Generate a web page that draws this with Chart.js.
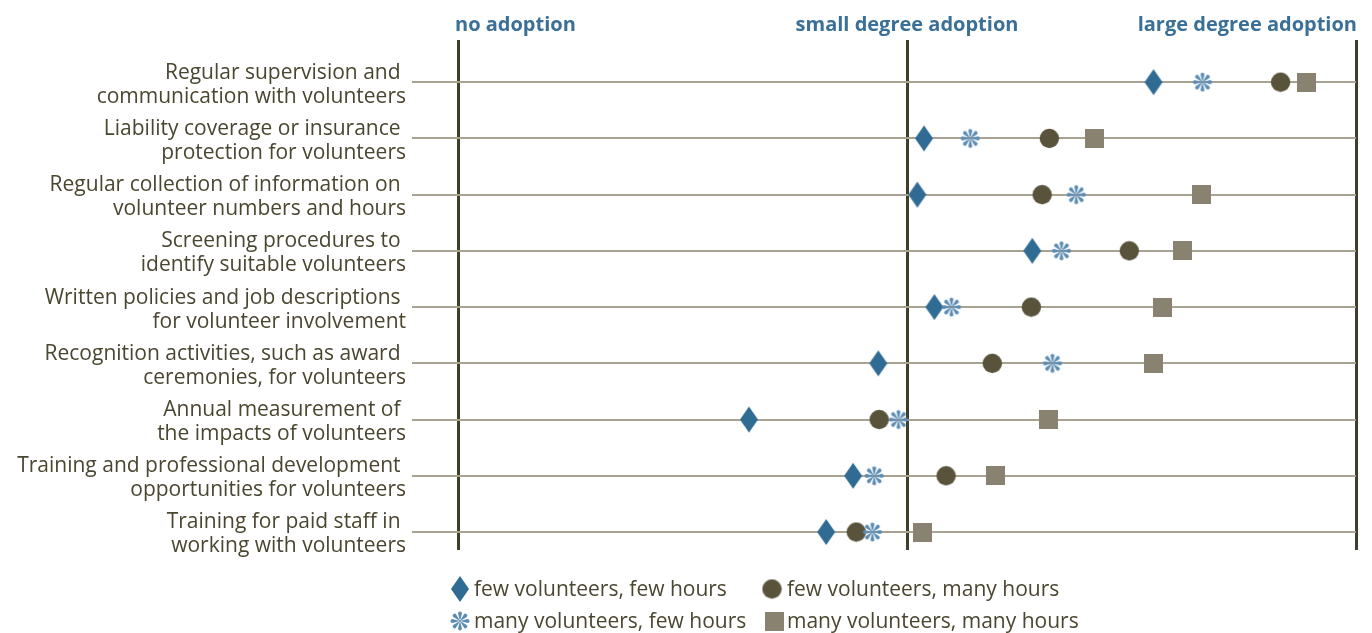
<!DOCTYPE html>
<html><head><meta charset="utf-8">
<script src="https://cdn.jsdelivr.net/npm/chart.js@4.4.1/dist/chart.umd.min.js"></script>
<style>html,body{margin:0;padding:0;background:#fff}canvas{display:block}</style>
</head><body>
<canvas id="c" width="1372" height="633"></canvas>
<script>
// ---- data ----
const categories = [
  ['Regular supervision and ', 'communication with volunteers'],
  ['Liability coverage or insurance ', 'protection for volunteers'],
  ['Regular collection of information on ', 'volunteer numbers and hours'],
  ['Screening procedures to ', 'identify suitable volunteers'],
  ['Written policies and job descriptions ', 'for volunteer involvement'],
  ['Recognition activities, such as award ', 'ceremonies, for volunteers'],
  ['Annual measurement of ', 'the impacts of volunteers'],
  ['Training and professional development ', 'opportunities for volunteers'],
  ['Training for paid staff in ', 'working with volunteers']
];
const fewVolFewHours   = [1.549, 1.038, 1.023, 1.279, 1.061, 0.936, 0.648, 0.880, 0.820];
const manyVolFewHours  = [1.658, 1.141, 1.377, 1.344, 1.099, 1.324, 0.981, 0.927, 0.923];
const fewVolManyHours  = [1.832, 1.317, 1.301, 1.495, 1.277, 1.190, 0.938, 1.087, 0.887];
const manyVolManyHours = [1.890, 1.417, 1.656, 1.613, 1.569, 1.549, 1.315, 1.197, 1.034];
const xTickLabels = ['no adoption', 'small degree adoption', 'large degree adoption'];
const seriesNames = ['few volunteers, few hours', 'few volunteers, many hours',
                     'many volunteers, few hours', 'many volunteers, many hours'];

// ---- marker images ----
function mk(w, h, fn) { const c = document.createElement('canvas'); c.width = w; c.height = h; fn(c.getContext('2d')); return c; }
const diamondImg = mk(20, 28, g => { g.fillStyle = '#2f6b92'; g.beginPath(); g.moveTo(10, 1); g.lineTo(19, 14); g.lineTo(10, 27); g.lineTo(1, 14); g.closePath(); g.fill(); });
const circleImg = mk(21, 21, g => { g.fillStyle = '#5a533b'; g.beginPath(); g.arc(10.5, 10.5, 9.7, 0, Math.PI * 2); g.fill(); });
const squareImg = mk(19, 19, g => { g.fillStyle = '#8a8271'; g.fillRect(0, 0, 19, 19); });
const asteriskImg = mk(24, 24, g => {
  g.fillStyle = '#5b8cb3';
  g.translate(12, 12);
  for (let k = 0; k < 8; k++) {
    g.save(); g.rotate(k * Math.PI / 4);
    g.beginPath(); g.moveTo(-0.35, -1.2); g.lineTo(-1.9, -7.4);
    g.arc(0, -7.6, 1.95, Math.PI, 0, false);
    g.lineTo(0.35, -1.2); g.closePath(); g.fill();
    g.restore();
  }
  g.beginPath(); g.arc(0, 0, 1.1, 0, Math.PI * 2); g.fill();
});

const FONT = '"Open Sans", "Noto Sans", sans-serif';
const TEXT = '#4a4630';

function pts(arr) { return arr.map((v, i) => ({ x: v, y: i })); }

const headerPlugin = {
  id: 'header',
  afterDraw(chart) {
    const { ctx, scales: { x } } = chart;
    ctx.save();
    ctx.font = 'bold 20px ' + FONT;
    ctx.fillStyle = '#3a6f97';
    ctx.textBaseline = 'middle';
    const aligns = ['left', 'center', 'right'];
    const offs = [-3, 0, 1];
    xTickLabels.forEach((t, i) => {
      ctx.textAlign = aligns[i];
      ctx.fillText(t, x.getPixelForValue(i) + offs[i], 25);
    });
    ctx.restore();
  }
};

const legendPlugin = {
  id: 'customLegend',
  afterDraw(chart) {
    const { ctx } = chart;
    const items = [
      { img: diamondImg, text: seriesNames[0], mx: 460, tx: 474, y: 589 },
      { img: circleImg, text: seriesNames[1], mx: 772, tx: 787, y: 589 },
      { img: asteriskImg, text: seriesNames[2], mx: 460, tx: 474, y: 621 },
      { img: squareImg, text: seriesNames[3], mx: 774, tx: 787, y: 621 }
    ];
    ctx.save();
    ctx.font = '21px ' + FONT;
    ctx.fillStyle = TEXT;
    ctx.textBaseline = 'middle';
    ctx.textAlign = 'left';
    items.forEach(it => {
      Chart.helpers.drawPoint(ctx, { pointStyle: it.img, radius: 10, rotation: 0 }, it.mx, it.y);
      ctx.fillText(it.text, it.tx, it.y + 1);
    });
    ctx.restore();
  }
};

new Chart(document.getElementById('c'), {
  type: 'scatter',
  data: {
    datasets: [
      { label: seriesNames[0], data: pts(fewVolFewHours), pointStyle: diamondImg, pointRadius: 10, order: 4 },
      { label: seriesNames[1], data: pts(fewVolManyHours), pointStyle: circleImg, pointRadius: 10, order: 3 },
      { label: seriesNames[2], data: pts(manyVolFewHours), pointStyle: asteriskImg, pointRadius: 10, order: 2 },
      { label: seriesNames[3], data: pts(manyVolManyHours), pointStyle: squareImg, pointRadius: 10, order: 1 }
    ]
  },
  options: {
    responsive: false,
    animation: false,
    layout: { padding: { top: 40, right: 16, bottom: 83, left: 0 } },
    plugins: { legend: { display: false }, tooltip: { enabled: false } },
    scales: {
      x: {
        type: 'linear', min: 0, max: 2,
        afterBuildTicks: s => { s.ticks = xTickLabels.map((_, i) => ({ value: i })); },
        grid: { color: '#3f3d2b', lineWidth: 3, drawTicks: false },
        border: { display: false },
        ticks: { display: false }
      },
      y: {
        type: 'linear', min: -0.75, max: 8.32, reverse: true,
        afterBuildTicks: s => { s.ticks = categories.map((_, i) => ({ value: i })); },
        afterFit: s => { s.width = 458; },
        grid: { color: '#a8a293', lineWidth: 2, tickLength: 46 },
        border: { display: false },
        ticks: {
          autoSkip: false, padding: 6, color: TEXT, labelOffset: 2.5,
          font: { family: FONT, size: 21, lineHeight: '24px' },
          callback: v => categories[v]
        }
      }
    }
  },
  plugins: [headerPlugin, legendPlugin]
});
</script>
</body></html>
